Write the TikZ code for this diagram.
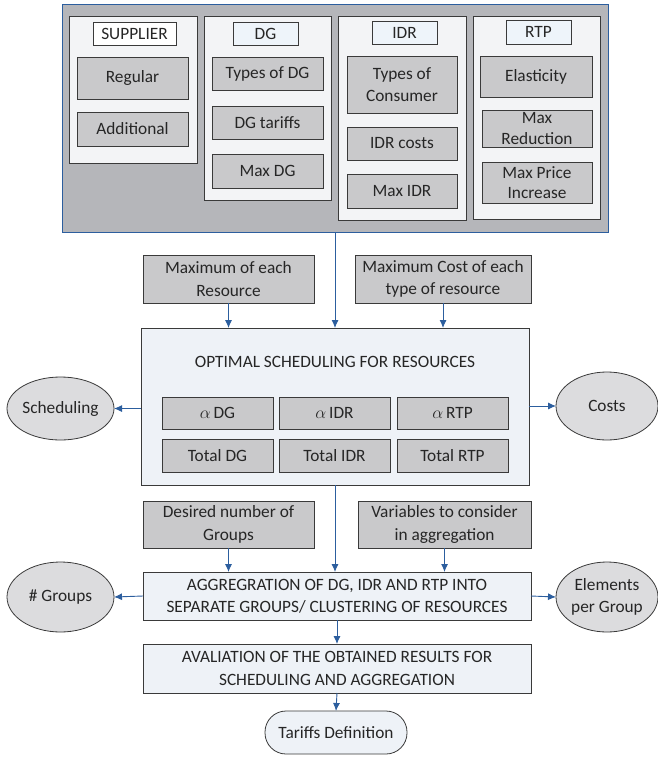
\documentclass[tikz,border=0pt]{standalone}
\usepackage{fontspec}
\setmainfont{Carlito}
\usepackage{tikz}
\usetikzlibrary{arrows.meta,shapes}
\definecolor{outerfill}{HTML}{B5B6BA}
\definecolor{linkblue}{HTML}{2C5E9E}
\definecolor{panelfill}{HTML}{F3F4F6}
\definecolor{itemfill}{HTML}{C9C9CB}
\definecolor{tagfill}{HTML}{EEF4FA}
\definecolor{stepfill}{HTML}{EEF2F7}
\definecolor{ovalfill}{HTML}{DCDCDE}
\definecolor{edge}{HTML}{3A3A3A}
\newcommand{\txtsize}{\fontsize{17.3}{22.5}\selectfont}
\newcommand{\tightsize}{\fontsize{17.3}{20.5}\selectfont}

\begin{document}
\begin{tikzpicture}[x=1pt,y=-1pt,
    base/.style={draw=edge, line width=0.8pt, inner sep=0pt, outer sep=0pt, align=center, font=\txtsize, text=black!85},
    panel/.style={base, fill=panelfill},
    item/.style={base, fill=itemfill},
    tag/.style={base, fill=tagfill},
    stepbox/.style={base, fill=stepfill},
    oval/.style={base, ellipse, inner sep=-6pt, fill=ovalfill},
    link/.style={draw=linkblue, line width=0.9pt, -{Latex[length=8pt,width=7pt]}}]
            \useasboundingbox (0,0) rectangle (658,757);
            % input data
            \node[base, fill=outerfill, draw=linkblue, minimum width=546, minimum height=228] (outer) at (335,118) {};
            \node[panel, minimum width=128, minimum height=147] (supP) at (133,89.5) {};
            \node[tag, fill=white, minimum width=83, minimum height=23] (supL) at (134.5,33.5) {SUPPLIER};
            \node[item, minimum width=111, minimum height=42] (regular) at (132.5,78) {Regular};
            \node[item, minimum width=111, minimum height=34] (additional) at (132.5,129) {Additional};
            \node[panel, minimum width=127, minimum height=184] (dgP) at (267.5,108) {};
            \node[tag, minimum width=65, minimum height=23] (dgL) at (265.5,33.5) {DG};
            \node[item, minimum width=111, minimum height=33] (typesDG) at (267.5,73.5) {Types of DG};
            \node[item, minimum width=111, minimum height=33] (dgTariffs) at (267.5,122.5) {DG tariffs};
            \node[item, minimum width=111, minimum height=34] (maxDG) at (267.5,171) {Max DG};
            \node[panel, minimum width=128, minimum height=204] (idrP) at (402,118) {};
            \node[tag, minimum width=65, minimum height=23] (idrL) at (404.5,32.5) {IDR};
            \node[item, minimum width=110, minimum height=57] (typesCons) at (402,84.5) {Types of\\Consumer};
            \node[item, minimum width=110, minimum height=33] (idrCosts) at (402,143.5) {IDR costs};
            \node[item, minimum width=110, minimum height=34] (maxIDR) at (402,191) {Max IDR};
            \node[panel, minimum width=127, minimum height=203] (rtpP) at (536.5,117.5) {};
            \node[tag, minimum width=65, minimum height=24] (rtpL) at (538.5,32) {RTP};
            \node[item, minimum width=112, minimum height=41] (elasticity) at (536,76.5) {Elasticity};
            \node[item, minimum width=110, minimum height=37, font=\tightsize] (maxRed) at (537,128.5) {Max\\Reduction};
            \node[item, minimum width=110, minimum height=41, font=\tightsize] (maxPrice) at (537,182.5) {Max Price\\Increase};
            % scheduling
            \node[item, minimum width=171, minimum height=48] (maxRes) at (228.5,279) {Maximum of each\\Resource};
            \node[item, minimum width=176, minimum height=48] (maxCost) at (443,279) {Maximum Cost of each\\type of resource};
            \node[stepbox, minimum width=388, minimum height=157] (optim) at (335,406.5) {};
            \node[font=\txtsize, text=black!85] (optimT) at (335,362) {OPTIMAL SCHEDULING FOR RESOURCES};
            \node[item, minimum width=111, minimum height=32] (aDG) at (217.5,413) {$\alpha$\,DG};
            \node[item, minimum width=111, minimum height=32] (aIDR) at (334.5,413) {$\alpha$\,IDR};
            \node[item, minimum width=111, minimum height=32] (aRTP) at (452.5,413) {$\alpha$\,RTP};
            \node[item, minimum width=111, minimum height=33] (totDG) at (217.5,455.5) {Total DG};
            \node[item, minimum width=111, minimum height=33] (totIDR) at (334.5,455.5) {Total IDR};
            \node[item, minimum width=111, minimum height=33] (totRTP) at (452.5,455.5) {Total RTP};
            \node[oval, minimum width=107, minimum height=63] (sched) at (60.5,408.5) {Scheduling};
            \node[oval, minimum width=102, minimum height=68] (costs) at (607,406) {Costs};
            % aggregation
            \node[item, minimum width=171, minimum height=47] (desired) at (228.5,524.5) {Desired number of\\Groups};
            \node[item, minimum width=173, minimum height=47] (variables) at (444.5,524.5) {Variables to consider\\in aggregation};
            \node[stepbox, minimum width=388, minimum height=48] (aggr) at (337,596) {AGGREGRATION OF DG, IDR AND RTP INTO\\SEPARATE GROUPS/ CLUSTERING OF RESOURCES};
            \node[oval, minimum width=107, minimum height=70] (groups) at (60.5,597) {\# Groups};
            \node[oval, minimum width=102, minimum height=70] (elements) at (607,597) {Elements\\per Group};
            \node[stepbox, minimum width=388, minimum height=49] (aval) at (337,668.5) {AVALIATION OF THE OBTAINED RESULTS FOR\\SCHEDULING AND AGGREGATION};
            \node[stepbox, rounded corners=21pt, minimum width=142, minimum height=43] (tariffs) at (336,732.5) {Tariffs Definition};

            \draw[link] (outer.south) -- (optim.north);
            \draw[link] (maxRes.south) -- (maxRes.south |- optim.north);
            \draw[link] (maxCost.south) -- (maxCost.south |- optim.north);
            \draw[link] (optim.west |- sched.east) -- (sched.east);
            \draw[link] (optim.east |- costs.west) -- (costs.west);
            \draw[link] (optim.south) -- (optim.south |- aggr.north);
            \draw[link] (desired.south) -- (desired.south |- aggr.north);
            \draw[link] (variables.south) -- (variables.south |- aggr.north);
            \draw[link] (aggr.west) -- (groups.east);
            \draw[link] (aggr.east) -- (elements.west);
            \draw[link] (aggr.south) -- (aval.north);
            \draw[link] (aval.south) -- (tariffs.north);
        \end{tikzpicture}
\end{document}
